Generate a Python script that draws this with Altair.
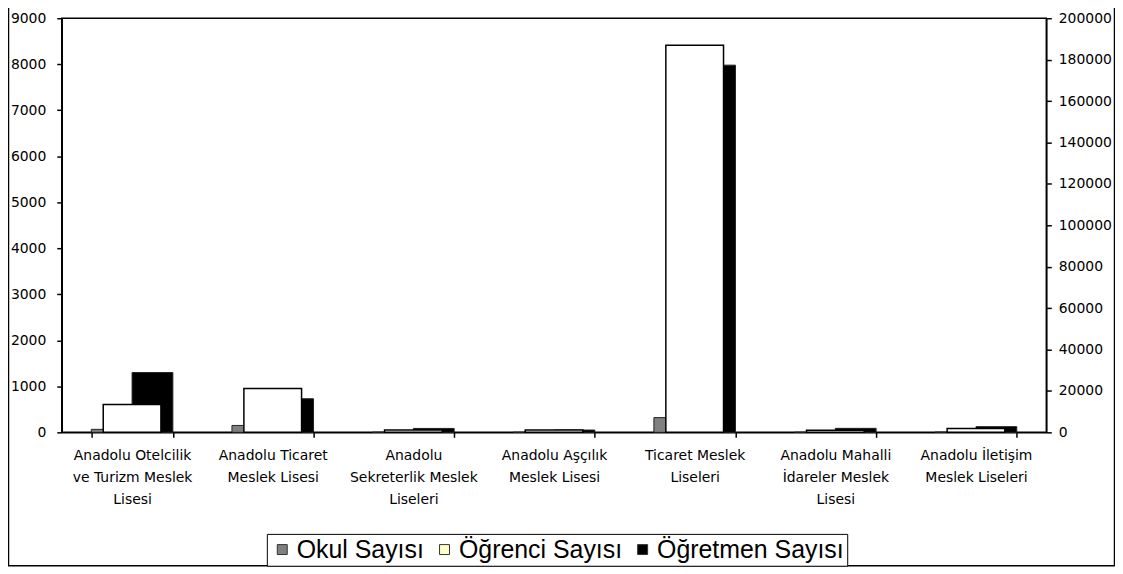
import altair as alt
import pandas as pd

# ---- data ----
categories = [
    "Anadolu Otelcilik|ve Turizm Meslek|Lisesi",
    "Anadolu Ticaret|Meslek Lisesi",
    "Anadolu|Sekreterlik Meslek|Liseleri",
    "Anadolu Aşçılık|Meslek Lisesi",
    "Ticaret Meslek|Liseleri",
    "Anadolu Mahalli|İdareler Meslek|Lisesi",
    "Anadolu İletişim|Meslek Liseleri",
]
okul_sayisi = [65, 150, 3, 2, 320, 2, 5]
ogrenci_sayisi = [13500, 21200, 1100, 1100, 187000, 1000, 1900]
ogretmen_sayisi = [1300, 730, 85, 50, 7980, 87, 124]

series_names = ["Okul Sayısı", "Öğrenci Sayısı", "Öğretmen Sayısı"]
series_colors = ["#808080", "#FFFFCC", "#000000"]
left_ticks = [0, 1000, 2000, 3000, 4000, 5000, 6000, 7000, 8000, 9000]
right_ticks = [0, 20000, 40000, 60000, 80000, 100000, 120000, 140000, 160000, 180000, 200000]

n = len(categories)
primary = pd.DataFrame({
    "kategori": categories * 2,
    "seri": [series_names[0]] * n + [series_names[2]] * n,
    "deger": okul_sayisi + ogretmen_sayisi,
})
secondary = pd.DataFrame({"kategori": categories, "deger": ogrenci_sayisi})

x_enc = alt.X(
    "kategori:N",
    sort=categories,
    scale=alt.Scale(paddingInner=0.42, paddingOuter=0.21),
    axis=alt.Axis(
        title=None,
        labelAngle=0,
        labelExpr="split(datum.label, '|')",
        tickBand="extent",
        labelFont="DejaVu Sans",
        labelFontSize=14,
        labelLineHeight=22,
        labelPadding=11,
        tickSize=5,
        labelLimit=300,
    ),
)

frame = alt.Chart(pd.DataFrame({"k": [0]})).mark_rect(
    fillOpacity=0, stroke="black", strokeWidth=1.5
).encode(
    x=alt.value(-53.5), x2=alt.value(1057.5), y=alt.value(-40), y2=alt.value(550)
)

prim = alt.Chart(primary).mark_bar(stroke="#222222", strokeWidth=1).encode(
    x=x_enc,
    xOffset=alt.XOffset(
        "seri:N",
        sort=[series_names[0], series_names[2]],
        scale=alt.Scale(domain=[series_names[0], series_names[2]], paddingInner=0, paddingOuter=0),
    ),
    y=alt.Y(
        "deger:Q",
        scale=alt.Scale(domain=[0, 9000], nice=False),
        axis=alt.Axis(title=None, orient="left", values=left_ticks, format="d",
                      tickSize=5, labelPadding=11),
    ),
    color=alt.Color(
        "seri:N",
        scale=alt.Scale(domain=series_names, range=series_colors),
        legend=alt.Legend(
            title=None,
            orient="none",
            legendX=206,
            legendY=518,
            direction="horizontal",
            labelFont="Liberation Sans",
            labelFontSize=25,
            labelColor="black",
            labelLimit=400,
            symbolType="square",
            symbolSize=100,
            symbolStrokeColor="#333333",
            symbolStrokeWidth=1,
            strokeColor="black",
            fillColor="white",
            padding=3,
            columnPadding=8,
            labelOffset=2,
        ),
    ),
)

sec = alt.Chart(secondary).mark_bar(
    fill="white", stroke="black", strokeWidth=1.5, width=alt.RelativeBandSize(0.707)
).encode(
    x=x_enc,
    y=alt.Y(
        "deger:Q",
        scale=alt.Scale(domain=[0, 200000], nice=False),
        axis=alt.Axis(title=None, orient="right", values=right_ticks, format="d",
                      tickSize=5, labelPadding=7),
    ),
)

chart = alt.layer(frame, prim, sec).resolve_scale(y="independent").properties(
    width=989,
    height=416,
    padding={"left": 54, "top": 9, "right": 69, "bottom": 135},
    autosize=alt.AutoSizeParams(type="none"),
).configure_view(
    stroke="black", strokeWidth=1.5
).configure_axis(
    grid=False,
    domainColor="black",
    domainWidth=1.5,
    tickColor="black",
    tickWidth=1.5,
    labelColor="black",
    labelFont="DejaVu Sans",
    labelFontSize=14,
)

chart.save("out.html", embed_options={"renderer": "svg", "actions": False})
